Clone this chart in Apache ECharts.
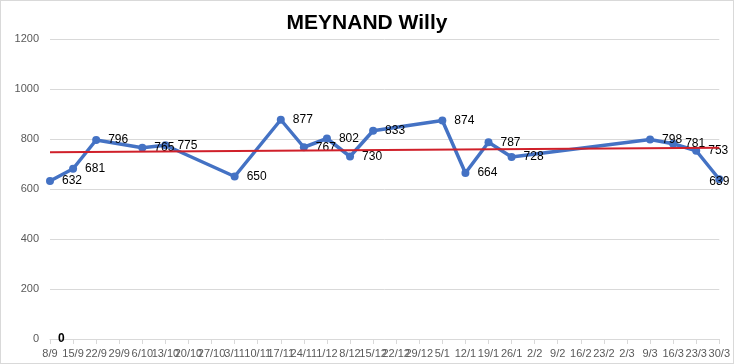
<!DOCTYPE html>
<html><head><meta charset="utf-8">
<script src="https://cdn.jsdelivr.net/npm/echarts@6/dist/echarts.min.js"></script>
<style>html,body{margin:0;padding:0;background:#fff}#c{width:732px;height:362px;border:1px solid #d9d9d9}</style>
</head><body><div id="c"></div>
<script>
const categories = ['8/9','15/9','22/9','29/9','6/10','13/10','20/10','27/10','3/11','10/11','17/11','24/11','1/12','8/12','15/12','22/12','29/12','5/1','12/1','19/1','26/1','2/2','9/2','16/2','23/2','2/3','9/3','16/3','23/3','30/3'];
const scores = [632,681,796,null,765,775,null,null,650,null,877,767,802,730,833,null,null,874,664,787,728,null,null,null,null,null,798,781,753,639];
const trend = [747,null,null,null,null,null,null,null,null,null,null,null,null,null,null,null,null,null,null,null,null,null,null,null,null,null,null,null,null,765];
const zeroSeries = [0,null,null,null,null,null,null,null,null,null,null,null,null,null,null,null,null,null,null,null,null,null,null,null,null,null,null,null,null,null];
const yTicks = {min:0,max:1200,interval:200};
const scoreData = scores.map((v,i)=> i===scores.length-1 && v!==null ? {value:v,label:{position:'inside',offset:[0,2]}} : v);
const chart = echarts.init(document.getElementById('c'));
chart.setOption({
  animation:false,
  title:{text:'MEYNAND Willy',left:'center',top:7,textStyle:{fontFamily:'Liberation Sans',fontWeight:'bold',fontSize:21,color:'#000'}},
  grid:{left:49,right:11,top:38,bottom:24},
  xAxis:{type:'category',data:categories,boundaryGap:false,
    axisLine:{lineStyle:{color:'#d9d9d9'}},axisTick:{show:true,lineStyle:{color:'#d9d9d9'}},
    axisLabel:{interval:0,color:'#595959',fontSize:11,fontFamily:'Liberation Sans',margin:9}},
  yAxis:{type:'value',min:yTicks.min,max:yTicks.max,interval:yTicks.interval,
    axisLine:{show:false},axisTick:{show:false},
    splitLine:{lineStyle:{color:'#d9d9d9'}},
    axisLabel:{color:'#595959',fontSize:11,fontFamily:'Liberation Sans',margin:11,formatter:v=>String(v)}},
  series:[
    {type:'line',data:scoreData,connectNulls:true,symbol:'circle',symbolSize:8,
     lineStyle:{color:'#4472C4',width:3.5},itemStyle:{color:'#4472C4'},
     label:{show:true,position:'right',distance:8,color:'#000',fontSize:12,fontFamily:'Liberation Sans'},z:3},
    {type:'line',data:trend,connectNulls:true,symbol:'none',lineStyle:{color:'#D0202A',width:2},z:4},
    {type:'line',data:zeroSeries,symbol:'circle',symbolSize:0,lineStyle:{width:0},
     label:{show:true,position:'right',distance:8,color:'#000',fontSize:12,fontWeight:'bold',fontFamily:'Liberation Sans'}}
  ]
});
</script></body></html>
